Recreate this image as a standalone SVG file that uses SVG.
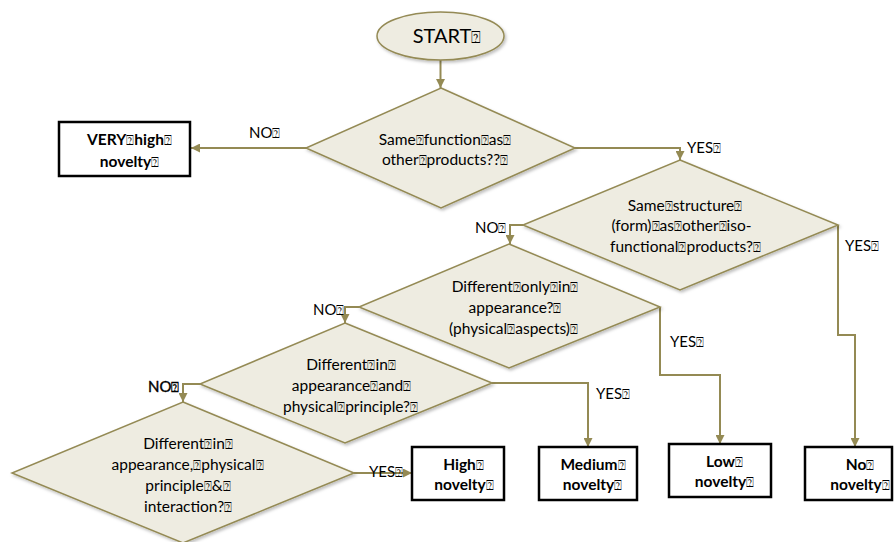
<svg xmlns="http://www.w3.org/2000/svg" width="894" height="542" viewBox="0 0 894 542">
<style>
.dia{fill:#EEECE1;stroke:#948A54;stroke-width:1.5;filter:url(#sh)}
.box{fill:#fff;stroke:#000;stroke-width:2.5}
.con{fill:none;stroke:#948A54;stroke-width:2;marker-end:url(#ah)}
text{font-family:Lato,"DejaVu Sans",sans-serif;font-size:15.5px;fill:#000}
.c{text-anchor:middle}
.b{font-weight:bold}
.lbl{font-size:15px}
.q{font-family:"DejaVu Sans",sans-serif;font-size:13px;font-weight:normal}
</style>
<defs>
<marker id="ah" viewBox="0 0 10 10" refX="10" refY="5" markerWidth="4.5" markerHeight="4.5" orient="auto" markerUnits="strokeWidth">
<path d="M0,0 L10,5 L0,10 z" fill="#948A54"/>
</marker>
<filter id="sh" x="-10%" y="-10%" width="125%" height="130%">
<feDropShadow dx="1.5" dy="2" stdDeviation="1.5" flood-color="#000" flood-opacity="0.25"/>
</filter>
</defs>

<g id="connectors">
<path class="con" d="M440.5,60 V88"/>
<path class="con" d="M306,148 H191"/>
<path class="con" d="M575,148 H680 V160"/>
<path class="con" d="M523,225 H510 V244"/>
<path class="con" d="M838,225 V335 H855 V447"/>
<path class="con" d="M359,307 H345 V323"/>
<path class="con" d="M660,307 V375 H720 V444"/>
<path class="con" d="M200,384 H183 V402"/>
<path class="con" d="M492,383 H588 V447"/>
<path class="con" d="M354,473 H412"/>
</g>

<g id="start">
<ellipse class="dia" cx="440.5" cy="36" rx="63.5" ry="24"/>
<text class="c" x="447" y="43" style="font-size:20px">START<tspan class="q" style="font-size:16px">⍰</tspan></text>
</g>

<g id="q1">
<polygon class="dia" points="441,88 575,148 441,208 306,148"/>
<text class="c" x="445" y="145">Same<tspan class="q">⍰</tspan>function<tspan class="q">⍰</tspan>as<tspan class="q">⍰</tspan></text>
<text class="c" x="445" y="165">other<tspan class="q">⍰</tspan>products??<tspan class="q">⍰</tspan></text>
</g>

<g id="q2">
<polygon class="dia" points="680,160 838,225 680,290 523,225"/>
<text class="c" x="685" y="211">Same<tspan class="q">⍰</tspan>structure<tspan class="q">⍰</tspan></text>
<text class="c" x="681.5" y="231">(form)<tspan class="q">⍰</tspan>as<tspan class="q">⍰</tspan>other<tspan class="q">⍰</tspan>iso-</text>
<text class="c" x="685.5" y="252">functional<tspan class="q">⍰</tspan>products?<tspan class="q">⍰</tspan></text>
</g>

<g id="q3">
<polygon class="dia" points="509,244 660,307 509,368 359,307"/>
<text class="c" x="515" y="292">Different<tspan class="q">⍰</tspan>only<tspan class="q">⍰</tspan>in<tspan class="q">⍰</tspan></text>
<text class="c" x="515" y="313">appearance?<tspan class="q">⍰</tspan></text>
<text class="c" x="513.5" y="334">(physical<tspan class="q">⍰</tspan>aspects)<tspan class="q">⍰</tspan></text>
</g>

<g id="q4">
<polygon class="dia" points="345,323 492,383 345,443 200,384"/>
<text class="c" x="351" y="370">Different<tspan class="q">⍰</tspan>in<tspan class="q">⍰</tspan></text>
<text class="c" x="351.5" y="391">appearance<tspan class="q">⍰</tspan>and<tspan class="q">⍰</tspan></text>
<text class="c" x="350.5" y="412">physical<tspan class="q">⍰</tspan>principle?<tspan class="q">⍰</tspan></text>
</g>

<g id="q5">
<polygon class="dia" points="183,402 354,473 183,543 12,473"/>
<text class="c" x="188" y="449">Different<tspan class="q">⍰</tspan>in<tspan class="q">⍰</tspan></text>
<text class="c" x="187.5" y="470">appearance,<tspan class="q">⍰</tspan>physical<tspan class="q">⍰</tspan></text>
<text class="c" x="188" y="491">principle<tspan class="q">⍰</tspan>&amp;<tspan class="q">⍰</tspan></text>
<text class="c" x="188" y="512">interaction?<tspan class="q">⍰</tspan></text>
</g>

<g id="very-high">
<rect class="box" x="59" y="122" width="131" height="54"/>
<text class="c b" x="129.5" y="145">VERY<tspan class="q">⍰</tspan>high<tspan class="q">⍰</tspan></text>
<text class="c b" x="129.5" y="167">novelty<tspan class="q">⍰</tspan></text>
</g>

<g id="high">
<rect class="box" x="412" y="447" width="92" height="53"/>
<text class="c b" x="463.5" y="470">High<tspan class="q">⍰</tspan></text>
<text class="c b" x="464" y="490">novelty<tspan class="q">⍰</tspan></text>
</g>

<g id="medium">
<rect class="box" x="539" y="447" width="98" height="53"/>
<text class="c b" x="593" y="470">Medium<tspan class="q">⍰</tspan></text>
<text class="c b" x="592.5" y="490">novelty<tspan class="q">⍰</tspan></text>
</g>

<g id="low">
<rect class="box" x="669" y="444" width="102" height="53"/>
<text class="c b" x="724.5" y="467">Low<tspan class="q">⍰</tspan></text>
<text class="c b" x="724.5" y="487">novelty<tspan class="q">⍰</tspan></text>
</g>

<g id="none">
<rect class="box" x="805" y="447" width="87" height="53"/>
<text class="c b" x="860" y="470">No<tspan class="q">⍰</tspan></text>
<text class="c b" x="860" y="490">novelty<tspan class="q">⍰</tspan></text>
</g>

<g id="labels">
<text class="lbl" x="249" y="138">NO<tspan class="q">⍰</tspan></text>
<text class="lbl" x="687" y="153">YES<tspan class="q">⍰</tspan></text>
<text class="lbl" x="475" y="233">NO<tspan class="q">⍰</tspan></text>
<text class="lbl" x="845" y="251">YES<tspan class="q">⍰</tspan></text>
<text class="lbl" x="313" y="315">NO<tspan class="q">⍰</tspan></text>
<text class="lbl" x="670" y="347">YES<tspan class="q">⍰</tspan></text>
<text class="lbl" x="148" y="392" style="stroke:#000;stroke-width:0.4">NO<tspan class="q">⍰</tspan></text>
<text class="lbl" x="596" y="399">YES<tspan class="q">⍰</tspan></text>
<text class="lbl" x="369" y="477">YES<tspan class="q">⍰</tspan></text>
</g>
</svg>
